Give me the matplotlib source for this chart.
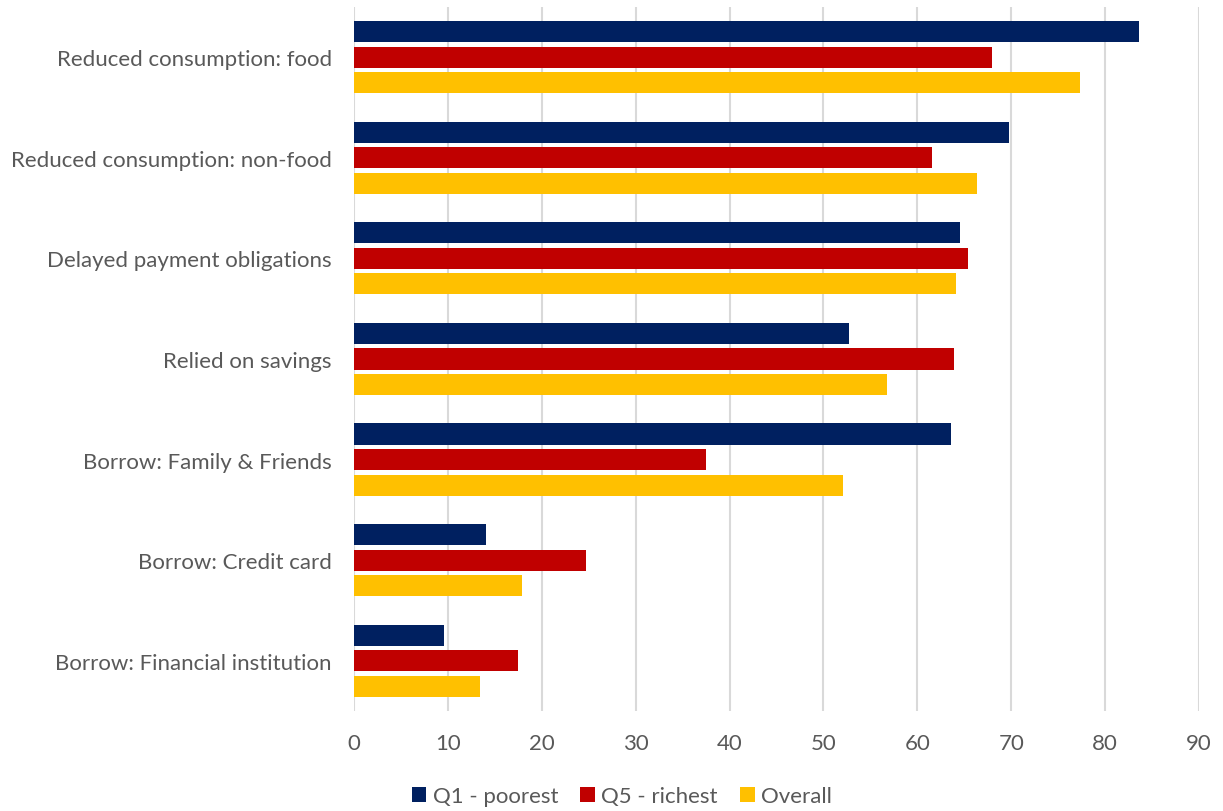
import matplotlib.pyplot as plt
import numpy as np

plt.rcParams['font.family'] = ['Lato', 'DejaVu Sans']

categories = ['Reduced consumption: food', 'Reduced consumption: non-food',
              'Delayed payment obligations', 'Relied on savings',
              'Borrow: Family & Friends', 'Borrow: Credit card',
              'Borrow: Financial institution']
q1_poorest = [83.6, 69.8, 64.5, 52.7, 63.6, 14.1, 9.6]
q5_richest = [68.0, 61.6, 65.4, 63.9, 37.5, 24.7, 17.5]
overall = [77.3, 66.4, 64.1, 56.8, 52.1, 17.9, 13.4]

series = [('Q1 - poorest', q1_poorest, '#002060'),
          ('Q5 - richest', q5_richest, '#C00000'),
          ('Overall', overall, '#FFC000')]

text_col = '#595959'
y = np.arange(len(categories))
step = 0.254
height = 0.21

fig = plt.figure(figsize=(12.23, 8.12), dpi=100)
ax = fig.add_axes([0.2894, 0.1232, 0.6910, 0.8670])

for i, (name, vals, col) in enumerate(series):
    ax.barh(y + (i - 1) * step, vals, height=height, color=col, label=name, zorder=3)

ax.set_xlim(0, 90)
ax.set_ylim(6.5, -0.5)
ax.set_xticks(np.arange(0, 91, 10))
ax.set_yticks(y)
ax.set_yticklabels(categories)
ax.grid(axis='x', color='#D9D9D9', linewidth=1.5, zorder=0)
for s in ax.spines.values():
    s.set_visible(False)
ax.tick_params(length=0, labelsize=16, colors=text_col)
ax.tick_params(axis='x', pad=16)
ax.tick_params(axis='y', pad=16)

# legend sits centred under the whole figure, not the axes
ax.legend(loc='center', bbox_to_anchor=(0.317, -0.121), ncol=3, frameon=False,
          fontsize=16, labelcolor=text_col, handlelength=0.65, handleheight=0.65,
          handletextpad=0.3, columnspacing=1.0)

fig.savefig('out.png', dpi=100)
